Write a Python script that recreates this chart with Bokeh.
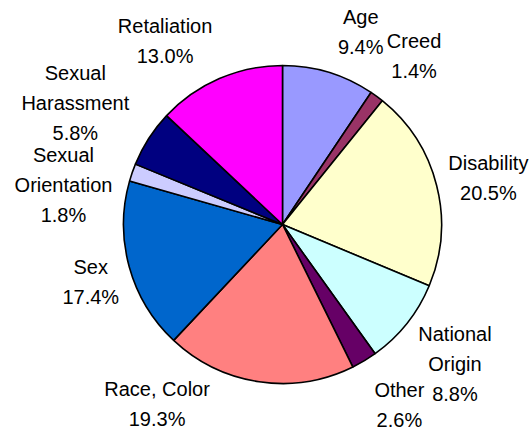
import numpy as np
from bokeh.plotting import figure
from bokeh.models import ColumnDataSource, Range1d
from bokeh.core.properties import value
from bokeh.embed import file_html
from bokeh.resources import INLINE

# ---- data (clockwise from 12 o'clock) ----
categories = ["Age", "Creed", "Disability", "National Origin", "Other",
              "Race, Color", "Sex", "Sexual Orientation", "Sexual Harassment",
              "Retaliation"]
percents = [9.4, 1.4, 20.5, 8.8, 2.6, 19.3, 17.4, 1.8, 5.8, 13.0]
label_lines = ["Age", "Creed", "Disability", "National\nOrigin", "Other",
               "Race, Color", "Sex", "Sexual\nOrientation", "Sexual\nHarassment",
               "Retaliation"]
colors = ["#9999FF", "#993366", "#FFFFCC", "#CCFFFF", "#660066",
          "#FF8080", "#0066CC", "#CCCCFF", "#000080", "#FF00FF"]

# ---- layout ----
W, H = 532, 438
cx, cy = 282, H - 224      # pie centre (data units = pixels)
R_PIE = 159                # screen px
R_LAB = 200
# per-label pixel nudges (dx right, dy down) from the default polar spot
nudge = [(20, 0), (13, -6), (12, 4), (16, 16), (14, 10),
         (-96, -17), (1, 5), (-30, 27), (-39, -12), (-38, 1)]

frac = np.array(percents) / 100.0
cum_end = np.cumsum(frac)
cum_start = cum_end - frac
start_angle = np.pi / 2 - 2 * np.pi * cum_end
end_angle = np.pi / 2 - 2 * np.pi * cum_start
mid = 2 * np.pi * (cum_start + cum_end) / 2   # clockwise from top

lx = [cx + R_LAB * np.sin(m) + n[0] for m, n in zip(mid, nudge)]
ly = [cy + 1 + R_LAB * np.cos(m) - n[1] for m, n in zip(mid, nudge)]
texts = [f"{l}\n{v:.1f}%" for l, v in zip(label_lines, percents)]

src = ColumnDataSource(dict(x=[cx] * len(percents), y=[cy] * len(percents),
                            start=start_angle, end=end_angle, color=colors,
                            cat=categories))
lsrc = ColumnDataSource(dict(x=lx, y=ly, text=texts))

p = figure(width=W, height=H, output_backend="svg", toolbar_location=None,
           x_range=Range1d(0, W), y_range=Range1d(0, H), min_border=0,
           background_fill_color="white", border_fill_color="white")
p.axis.visible = False
p.grid.visible = False
p.outline_line_color = None

p.wedge(x="x", y="y", radius=R_PIE, radius_units="screen",
        start_angle="start", end_angle="end", direction="anticlock",
        fill_color="color", line_color="black", line_width=1.6, source=src)

p.text(x="x", y="y", text="text", source=lsrc,
       text_font=value("Liberation Sans"), text_font_size="20px",
       text_color="black", text_align="center", text_baseline="middle",
       text_line_height=1.36)

open("out.html", "w").write(file_html(p, INLINE))
